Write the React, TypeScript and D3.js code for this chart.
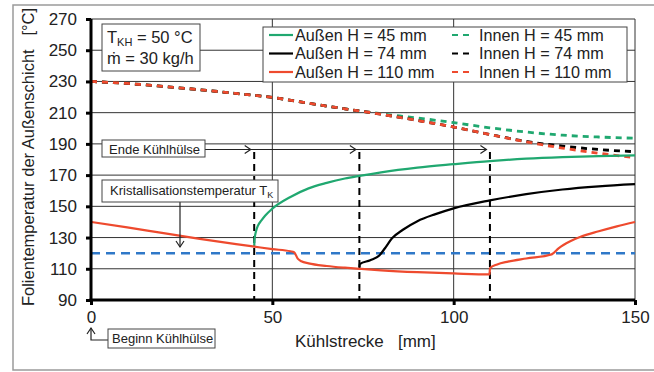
import React, { useEffect, useRef } from 'react';
import * as d3 from 'd3';

const xTicks = [0, 50, 100, 150];
const yTicks = [90, 110, 130, 150, 170, 190, 210, 230, 250, 270];

const aussen45 = [[45, 124], [45.1, 129], [45.5, 134], [46, 137.5], [47, 141], [48, 144], [50, 148.5], [55, 156], [60, 161.5], [65, 165], [70, 167.8], [74, 169.5], [80, 171.8], [90, 174.8], [100, 177], [110, 179], [120, 180.5], [130, 181.5], [140, 182.2], [150, 182.6]];
const aussen74 = [[74, 110], [74.1, 113], [77, 115.5], [79.5, 118.5], [81, 123], [83, 129.5], [86, 135], [90, 140.5], [95, 145], [100, 148.7], [110, 153.8], [120, 157.8], [130, 160.8], [140, 162.8], [150, 164.2]];
const aussen110 = [[0, 140], [10, 136.5], [20, 132.8], [30, 129.2], [40, 125.8], [45, 124.2], [50, 122.6], [55, 121.2], [56, 120.6], [57, 116.5], [58, 114.8], [60, 113.5], [65, 111.8], [70, 110.7], [74, 110], [80, 109], [90, 107.8], [100, 107], [109.9, 106.4], [110, 110.3], [112, 112.8], [115, 114.6], [120, 116.6], [127, 119.2], [129, 123.3], [132, 127.5], [135, 130.5], [140, 134], [145, 137.2], [150, 140]];
const innen45 = [[0, 230], [10, 228.7], [20, 226.8], [30, 224.7], [40, 222.3], [50, 219.8], [60, 216], [70, 212.5], [75, 210.8], [80, 209.3], [90, 206.6], [100, 203.6], [110, 200.3], [120, 197.6], [130, 195.6], [140, 194.4], [150, 193.6]];
const innen74 = [[0, 230], [10, 228.7], [20, 226.8], [30, 224.7], [40, 222.3], [50, 219.8], [60, 216], [70, 212.5], [80, 209], [90, 205], [100, 200.8], [110, 196], [120, 191.6], [130, 188.6], [140, 186.4], [150, 185]];
const innen110 = [[0, 230], [10, 228.7], [20, 226.8], [30, 224.7], [40, 222.3], [50, 219.8], [60, 216], [70, 212.5], [80, 209], [90, 205], [100, 200.8], [110, 196], [120, 191.3], [130, 187.3], [140, 184], [150, 181.2]];

const kristallTemp = 120;
const kuehlEnden = [45, 74, 110];

const FONT = 'Arial, "Liberation Sans", sans-serif';
const GREEN = '#20a870';
const RED = '#ee4a2e';
const BLUE = '#2f78c8';

export default function App() {
  const ref = useRef<SVGSVGElement>(null);

  useEffect(() => {
    const svg = d3.select(ref.current);
    svg.selectAll('*').remove();

    const x = d3.scaleLinear().domain([0, 150]).range([91, 635]);
    const y = d3.scaleLinear().domain([90, 270]).range([300, 19]);

    // outer frame
    svg.append('rect').attr('x', 13).attr('y', 5).attr('width', 660).attr('height', 365)
      .attr('fill', 'white').attr('stroke', '#9a9a9a').attr('stroke-width', 1.5);

    // grid
    const grid = svg.append('g').attr('stroke', '#333').attr('stroke-width', 1);
    grid.selectAll('line.h').data(yTicks.slice(1)).enter().append('line')
      .attr('x1', x(0)).attr('x2', x(150)).attr('y1', d => y(d)).attr('y2', d => y(d));
    grid.selectAll('line.v').data(xTicks.slice(1)).enter().append('line')
      .attr('x1', d => x(d)).attr('x2', d => x(d)).attr('y1', y(270)).attr('y2', y(90));

    // Kristallisationstemperatur
    svg.append('line').attr('x1', x(0)).attr('x2', x(150)).attr('y1', y(kristallTemp)).attr('y2', y(kristallTemp))
      .attr('stroke', BLUE).attr('stroke-width', 2.5).attr('stroke-dasharray', '9,6');

    // Ende Kühlhülse verticals
    svg.selectAll('line.ende').data(kuehlEnden).enter().append('line')
      .attr('x1', d => x(d)).attr('x2', d => x(d)).attr('y1', 152).attr('y2', y(90))
      .attr('stroke', '#000').attr('stroke-width', 2).attr('stroke-dasharray', '7,5');

    const line = d3.line<number[]>().x(d => x(d[0])).y(d => y(d[1])).curve(d3.curveMonotoneX);
    const series = [
      { data: innen45, color: GREEN, dash: '6,5' },
      { data: innen74, color: '#000', dash: '6,5' },
      { data: innen110, color: RED, dash: '6,5' },
      { data: aussen45, color: GREEN, dash: null },
      { data: aussen74, color: '#000', dash: null },
      { data: aussen110, color: RED, dash: null },
    ];
    series.forEach(s => {
      svg.append('path').attr('d', line(s.data)).attr('fill', 'none')
        .attr('stroke', s.color).attr('stroke-width', s.dash ? 2.8 : 2.2)
        .attr('stroke-dasharray', s.dash);
    });

    // axes
    const yAxis = svg.append('g').attr('transform', `translate(${x(0)},0)`)
      .call(d3.axisLeft(y).tickValues(yTicks).tickSize(5).tickSizeOuter(0).tickPadding(9));
    const xAxis = svg.append('g').attr('transform', `translate(0,${y(90)})`)
      .call(d3.axisBottom(x).tickValues(xTicks).tickSize(5).tickSizeOuter(0).tickPadding(6));
    [yAxis, xAxis].forEach(a => {
      a.select('.domain').attr('stroke', '#000').attr('stroke-width', 3);
      a.selectAll('.tick line').attr('stroke', '#000').attr('stroke-width', 3);
      a.selectAll('.tick text').attr('font-family', FONT).attr('font-size', 17).attr('fill', '#222');
    });
    yAxis.select('.domain').attr('d', `M0,${y(270)}V${y(90) + 1.5}`);
    xAxis.select('.domain').attr('d', `M${x(0) - 1.5},0H${x(150)}`);

    // axis titles
    svg.append('text').attr('x', 295).attr('y', 347).attr('font-family', FONT).attr('font-size', 17)
      .attr('fill', '#222').style('white-space', 'pre').text('Kühlstrecke   [mm]');
    svg.append('text').attr('transform', 'translate(33.5,157) rotate(-90)').attr('text-anchor', 'middle')
      .attr('font-family', FONT).attr('font-size', 16.5).attr('fill', '#222').style('white-space', 'pre')
      .text('Folientemperatur der Außenschicht   [°C]');

    // parameter box
    svg.append('rect').attr('x', 102).attr('y', 24).attr('width', 98).attr('height', 47)
      .attr('fill', 'white').attr('stroke', '#444').attr('stroke-width', 1);
    const t1 = svg.append('text').attr('x', 107).attr('y', 43).attr('font-family', FONT).attr('font-size', 16.5).attr('fill', '#222');
    t1.append('tspan').text('T');
    t1.append('tspan').attr('dy', 3).attr('font-size', 11).text('KH');
    t1.append('tspan').attr('dy', -3).text(' = 50 °C');
    svg.append('text').attr('x', 107).attr('y', 64).attr('font-family', FONT).attr('font-size', 16.5).attr('fill', '#222')
      .text('ṁ = 30 kg/h');

    // legend
    svg.append('rect').attr('x', 263).attr('y', 27).attr('width', 364).attr('height', 55)
      .attr('fill', 'white').attr('stroke', '#444').attr('stroke-width', 1);
    const legend = [
      { label: 'Außen H = 45 mm', color: GREEN, dash: null, col: 0, row: 0 },
      { label: 'Außen H = 74 mm', color: '#000', dash: null, col: 0, row: 1 },
      { label: 'Außen H = 110 mm', color: RED, dash: null, col: 0, row: 2 },
      { label: 'Innen H = 45 mm', color: GREEN, dash: '6,5', col: 1, row: 0 },
      { label: 'Innen H = 74 mm', color: '#000', dash: '6,5', col: 1, row: 1 },
      { label: 'Innen H = 110 mm', color: RED, dash: '6,5', col: 1, row: 2 },
    ];
    legend.forEach(l => {
      const lx = l.col === 0 ? 269 : 452;
      const ly = 35 + l.row * 18.5;
      svg.append('line').attr('x1', lx).attr('x2', lx + (l.col === 0 ? 24 : 22)).attr('y1', ly).attr('y2', ly)
        .attr('stroke', l.color).attr('stroke-width', 2.2).attr('stroke-dasharray', l.dash);
      svg.append('text').attr('x', l.col === 0 ? 295 : 479).attr('y', ly + 5.5)
        .attr('font-family', FONT).attr('font-size', 16.2).attr('fill', '#222').text(l.label);
    });

    const arrowHead = (tx: number, ty: number, dir: string) => {
      const p = dir === 'right' ? `M${tx - 6},${ty - 4}L${tx},${ty}L${tx - 6},${ty + 4}`
        : dir === 'down' ? `M${tx - 4},${ty - 6}L${tx},${ty}L${tx + 4},${ty - 6}`
        : `M${tx - 4},${ty + 6}L${tx},${ty}L${tx + 4},${ty + 6}`;
      svg.append('path').attr('d', p).attr('fill', 'none').attr('stroke', '#222').attr('stroke-width', 1.2);
    };

    // Ende Kühlhülse
    svg.append('line').attr('x1', 205).attr('x2', x(110) - 3).attr('y1', 149.5).attr('y2', 149.5)
      .attr('stroke', '#222').attr('stroke-width', 1.2);
    kuehlEnden.forEach(v => arrowHead(x(v) - 3.5, 149.5, 'right'));
    svg.append('rect').attr('x', 102).attr('y', 140).attr('width', 103).attr('height', 17)
      .attr('fill', 'white').attr('stroke', '#444').attr('stroke-width', 1);
    svg.append('text').attr('x', 109).attr('y', 153.5).attr('font-family', FONT).attr('font-size', 13).attr('fill', '#222')
      .text('Ende Kühlhülse');

    // Kristallisationstemperatur
    svg.append('line').attr('x1', 180).attr('x2', 180).attr('y1', 202).attr('y2', 247)
      .attr('stroke', '#222').attr('stroke-width', 1.2);
    arrowHead(180, 247, 'down');
    svg.append('rect').attr('x', 102).attr('y', 180).attr('width', 176).attr('height', 22)
      .attr('fill', 'white').attr('stroke', '#444').attr('stroke-width', 1);
    const tk = svg.append('text').attr('x', 110).attr('y', 195).attr('font-family', FONT).attr('font-size', 13).attr('fill', '#222');
    tk.append('tspan').text('Kristallisationstemperatur T');
    tk.append('tspan').attr('dy', 3).attr('font-size', 9).text('K');

    // Beginn Kühlhülse
    svg.append('path').attr('d', `M108,340H${x(0)}V328`).attr('fill', 'none')
      .attr('stroke', '#222').attr('stroke-width', 1.2);
    arrowHead(x(0), 328, 'up');
    svg.append('rect').attr('x', 108).attr('y', 329).attr('width', 107).attr('height', 19)
      .attr('fill', 'white').attr('stroke', '#444').attr('stroke-width', 1);
    svg.append('text').attr('x', 112).attr('y', 343).attr('font-family', FONT).attr('font-size', 13).attr('fill', '#222')
      .text('Beginn Kühlhülse');
  }, []);

  return (
    <svg ref={ref} width={654} height={372}
      style={{ position: 'absolute', left: 0, top: 0, background: 'white' }} />
  );
}
